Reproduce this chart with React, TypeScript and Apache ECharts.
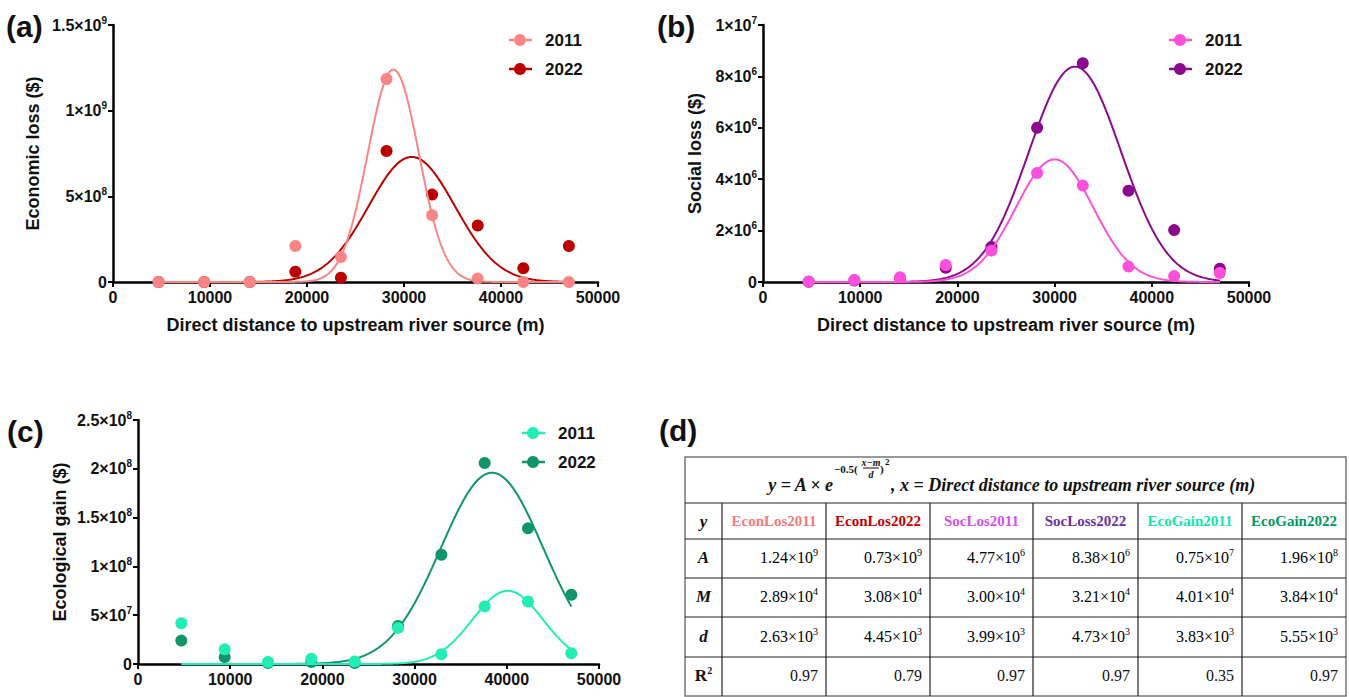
import React, { useEffect, useRef } from "react";
import * as echarts from "echarts";

// ---------------- data ----------------
const distances = [4700, 9400, 14100, 18800, 23500, 28200, 32900, 37600, 42300, 47000];

const econ2011 = [0, 0, 0, 0.21e9, 0.146e9, 1.185e9, 0.39e9, 0.02e9, 0, 0];
const econ2022 = [0, 0, 0, 0.06e9, 0.025e9, 0.765e9, 0.51e9, 0.33e9, 0.08e9, 0.21e9];
const soc2011 = [0.02e6, 0.08e6, 0.18e6, 0.66e6, 1.22e6, 4.24e6, 3.75e6, 0.6e6, 0.23e6, 0.35e6];
const soc2022 = [0.01e6, 0.06e6, 0.15e6, 0.55e6, 1.36e6, 6.0e6, 8.51e6, 3.55e6, 2.02e6, 0.52e6];
const eco2011 = [0.417e8, 0.15e8, 0.02e8, 0.055e8, 0.025e8, 0.37e8, 0.1e8, 0.59e8, 0.64e8, 0.11e8];
const eco2022 = [0.24e8, 0.07e8, 0.01e8, 0.02e8, 0.01e8, 0.39e8, 1.12e8, 2.06e8, 1.39e8, 0.71e8];

// Gaussian fit parameters (table d); curve amplitude for EcoGain2011 as plotted
const fitNames = ["EconLos2011", "EconLos2022", "SocLos2011", "SocLoss2022", "EcoGain2011", "EcoGain2022"];
const fitA = [1.24e9, 0.73e9, 4.77e6, 8.38e6, 0.75e8, 1.96e8];
const fitM = [28900, 30800, 30000, 32100, 40100, 38400];
const fitD = [2630, 4450, 3990, 4730, 3830, 5550];
const fitRange = [4700, 47000];

// table text
const tableA = [["1.24", "9"], ["0.73", "9"], ["4.77", "6"], ["8.38", "6"], ["0.75", "7"], ["1.96", "8"]];
const tableM = [["2.89", "4"], ["3.08", "4"], ["3.00", "4"], ["3.21", "4"], ["4.01", "4"], ["3.84", "4"]];
const tableD = [["2.63", "3"], ["4.45", "3"], ["3.99", "3"], ["4.73", "3"], ["3.83", "3"], ["5.55", "3"]];
const tableR2 = ["0.97", "0.79", "0.97", "0.97", "0.35", "0.97"];
const headerColors = ["#F27C7C", "#C00000", "#D651EC", "#7030A0", "#12E6AA", "#009A62"];

// tick labels [value, mantissa, exponent]
const econTicks: [number, string, string][] = [[0, "0", ""], [5e8, "5", "8"], [1e9, "1", "9"], [1.5e9, "1.5", "9"]];
const socTicks: [number, string, string][] = [[0, "0", ""], [2e6, "2", "6"], [4e6, "4", "6"], [6e6, "6", "6"], [8e6, "8", "6"], [1e7, "1", "7"]];
const ecoTicks: [number, string, string][] = [[0, "0", ""], [5e7, "5", "7"], [1e8, "1", "8"], [1.5e8, "1.5", "8"], [2e8, "2", "8"], [2.5e8, "2.5", "8"]];

const colors = {
  econ2011: "#FA8585",
  econ2022: "#BC0000",
  soc2011: "#FF50DC",
  soc2022: "#8A0A8E",
  eco2011: "#22EDB4",
  eco2022: "#10956A",
};

const SANS = "Arial, 'Liberation Sans', Helvetica, sans-serif";
const SERIF = "'Liberation Serif', 'Times New Roman', serif";

function gaussCurve(i: number) {
  const pts: number[][] = [];
  for (let x = fitRange[0]; x <= fitRange[1]; x += 100) {
    const z = (x - fitM[i]) / fitD[i];
    pts.push([x, fitA[i] * Math.exp(-0.5 * z * z)]);
  }
  return pts;
}

function pair(ys: number[]) {
  return distances.map((x, i) => [x, ys[i]]);
}

function tickFormatter(ticks: [number, string, string][]) {
  return (v: number) => {
    const t = ticks.find((k) => Math.abs(k[0] - v) < 1e-6 * Math.max(1, Math.abs(v)));
    if (!t) return "";
    return t[2] ? `{m|${t[1]}×10}{s|${t[2]}}` : `{m|${t[1]}}`;
  };
}

const axisRich = {
  m: { fontSize: 16, fontWeight: "bold", fontFamily: SANS, color: "#111", lineHeight: 20 },
  s: { fontSize: 10, fontWeight: "bold", fontFamily: SANS, color: "#111", lineHeight: 8, verticalAlign: "top" },
};

const axisLineStyle = { color: "#000", width: 2.5 };

function makeX(gridIndex: number, withName: boolean) {
  return {
    type: "value",
    gridIndex,
    min: 0,
    max: 50000,
    interval: 10000,
    name: withName ? "Direct distance to upstream river source (m)" : "",
    nameLocation: "middle",
    nameGap: 34,
    nameTextStyle: { fontSize: 18, fontWeight: "bold", fontFamily: SANS, color: "#111" },
    axisLine: { show: true, onZero: false, lineStyle: axisLineStyle },
    axisTick: { show: true, length: 5, lineStyle: { color: "#000", width: 2 } },
    axisLabel: {
      fontSize: 16, fontWeight: "bold", fontFamily: SANS, color: "#111", margin: 7,
      formatter: (v: number) => String(v),
    },
    splitLine: { show: false },
  };
}

function makeY(gridIndex: number, name: string, max: number, interval: number, ticks: [number, string, string][], gap: number) {
  return {
    type: "value",
    gridIndex,
    min: 0,
    max,
    interval,
    name,
    nameLocation: "middle",
    nameGap: gap,
    nameTextStyle: { fontSize: 18, fontWeight: "bold", fontFamily: SANS, color: "#111" },
    axisLine: { show: true, lineStyle: axisLineStyle },
    axisTick: { show: true, length: 5, lineStyle: { color: "#000", width: 2 } },
    axisLabel: { formatter: tickFormatter(ticks), rich: axisRich, margin: 6 },
    splitLine: { show: false },
  };
}

function panelSeries(gi: number, ys2011: number[], ys2022: number[], c2011: string, c2022: string, f2011: number, f2022: number) {
  return [
    {
      type: "line", xAxisIndex: gi, yAxisIndex: gi, data: gaussCurve(f2022), showSymbol: false,
      lineStyle: { color: c2022, width: 2 }, z: 2, silent: true,
    },
    {
      type: "scatter", xAxisIndex: gi, yAxisIndex: gi, data: pair(ys2022), symbolSize: 12,
      itemStyle: { color: c2022, opacity: 1 }, z: 3,
    },
    {
      type: "line", xAxisIndex: gi, yAxisIndex: gi, data: gaussCurve(f2011), showSymbol: false,
      lineStyle: { color: c2011, width: 2 }, z: 4, silent: true,
    },
    {
      type: "scatter", xAxisIndex: gi, yAxisIndex: gi, data: pair(ys2011), symbolSize: 12,
      itemStyle: { color: c2011, opacity: 1 }, z: 5,
    },
  ];
}

function legendGraphic(x: number, y1: number, y2: number, c1: string, c2: string) {
  const items: any[] = [];
  [[y1, c1, "2011"], [y2, c2, "2022"]].forEach(([y, c, t]: any) => {
    items.push({ type: "line", shape: { x1: x - 11, y1: y, x2: x + 12, y2: y }, style: { stroke: c, lineWidth: 2.5 } });
    items.push({ type: "circle", shape: { cx: x, cy: y, r: 6 }, style: { fill: c } });
    items.push({
      type: "text", x: x + 25, y, style: { text: t, fontSize: 17, fontWeight: "bold", fontFamily: SANS, fill: "#111", textVerticalAlign: "middle" },
    });
  });
  return items;
}

function panelLabel(text: string, x: number, y: number) {
  return {
    type: "text", x, y,
    style: { text, fontSize: 30, fontWeight: "bold", fontFamily: SANS, fill: "#111", textVerticalAlign: "middle" },
  };
}

function tableGraphic() {
  const els: any[] = [];
  const cols = [685, 722, 826, 930, 1033, 1138, 1242, 1346];
  const rows = [457, 503, 539, 578, 617, 657, 696];
  const L = cols[0], R = cols[cols.length - 1], T = rows[0], B = rows[rows.length - 1];
  els.push({ type: "rect", shape: { x: L, y: T, width: R - L, height: B - T }, style: { fill: "none", stroke: "#777", lineWidth: 1.5 } });
  rows.slice(1, -1).forEach((y) => els.push({ type: "line", shape: { x1: L, y1: y, x2: R, y2: y }, style: { stroke: "#222", lineWidth: 1.2 } }));
  cols.slice(1, -1).forEach((x) => els.push({ type: "line", shape: { x1: x, y1: rows[1], x2: x, y2: B }, style: { stroke: "#222", lineWidth: 1.2 } }));

  // formula row
  const fy = 485;
  const fStyle = { fontFamily: SERIF, fontWeight: "bold", fontStyle: "italic", fill: "#111" };
  els.push({ type: "text", x: 833, y: fy, style: { ...fStyle, text: "y = A × e", fontSize: 18, textAlign: "right", textVerticalAlign: "middle" } });
  els.push({ type: "text", x: 834, y: 469, style: { ...fStyle, fontStyle: "normal", text: "−0.5(", fontSize: 11, textAlign: "left", textVerticalAlign: "middle" } });
  els.push({ type: "text", x: 871, y: 462, style: { ...fStyle, text: "x−m", fontSize: 10, textAlign: "center", textVerticalAlign: "middle" } });
  els.push({ type: "line", shape: { x1: 863, y1: 468, x2: 879, y2: 468 }, style: { stroke: "#111", lineWidth: 1 } });
  els.push({ type: "text", x: 871, y: 474, style: { ...fStyle, text: "d", fontSize: 10, textAlign: "center", textVerticalAlign: "middle" } });
  els.push({ type: "text", x: 880, y: 469, style: { ...fStyle, fontStyle: "normal", text: ")", fontSize: 11, textAlign: "left", textVerticalAlign: "middle" } });
  els.push({ type: "text", x: 885, y: 462, style: { ...fStyle, fontStyle: "normal", text: "2", fontSize: 9, textAlign: "left", textVerticalAlign: "middle" } });
  els.push({
    type: "text", x: 891, y: fy,
    style: { ...fStyle, text: ", x = Direct distance to upstream river source (m)", fontSize: 18, textAlign: "left", textVerticalAlign: "middle" },
  });

  const rowLabelX = (cols[0] + cols[1]) / 2;
  const labelStyle = { fontFamily: SERIF, fontWeight: "bold", fontStyle: "italic", fill: "#111", fontSize: 17, textAlign: "center", textVerticalAlign: "middle" };
  const centers = [521, 557, 596, 636, 675];
  ["y", "A", "M", "d"].forEach((t, i) => els.push({ type: "text", x: rowLabelX, y: centers[i], style: { ...labelStyle, text: t } }));
  els.push({
    type: "text", x: rowLabelX, y: centers[4],
    style: {
      text: "{v|R}{e|2}", textAlign: "center", textVerticalAlign: "middle",
      rich: {
        v: { fontFamily: SERIF, fontWeight: "bold", fontSize: 17, fill: "#111", color: "#111", lineHeight: 20 },
        e: { fontFamily: SERIF, fontWeight: "bold", fontSize: 10, fill: "#111", color: "#111", lineHeight: 8, verticalAlign: "top" },
      },
    },
  });

  fitNames.forEach((n, i) => {
    els.push({
      type: "text", x: (cols[i + 1] + cols[i + 2]) / 2, y: centers[0],
      style: { text: n, fontFamily: SERIF, fontWeight: "bold", fontSize: 15, fill: headerColors[i], textAlign: "center", textVerticalAlign: "middle" },
    });
  });

  const valRich = {
    v: { fontFamily: SERIF, fontSize: 16, color: "#111", lineHeight: 20 },
    e: { fontFamily: SERIF, fontSize: 10, color: "#111", lineHeight: 8, verticalAlign: "top" },
  };
  [tableA, tableM, tableD].forEach((arr, r) => {
    arr.forEach((p, i) => {
      els.push({
        type: "text", x: cols[i + 2] - 8, y: centers[r + 1],
        style: { text: `{v|${p[0]}×10}{e|${p[1]}}`, rich: valRich, textAlign: "right", textVerticalAlign: "middle" },
      });
    });
  });
  tableR2.forEach((t, i) => {
    els.push({
      type: "text", x: cols[i + 2] - 8, y: centers[4],
      style: { text: t, fontFamily: SERIF, fontSize: 16, fill: "#111", textAlign: "right", textVerticalAlign: "middle" },
    });
  });
  return els;
}

export default function App() {
  const ref = useRef<HTMLDivElement>(null);
  useEffect(() => {
    if (!ref.current) return;
    const chart = echarts.init(ref.current, undefined, { renderer: "svg" });
    const option: any = {
      animation: false,
      backgroundColor: "#fff",
      grid: [
        { left: 113, top: 25, width: 485, height: 257 },
        { left: 763, top: 25, width: 486, height: 257 },
        { left: 138, top: 420, width: 461, height: 244 },
      ],
      xAxis: [makeX(0, true), makeX(1, true), makeX(2, false)],
      yAxis: [
        makeY(0, "Economic loss ($)", 1.5e9, 5e8, econTicks, 71),
        makeY(1, "Social loss ($)", 1e7, 2e6, socTicks, 59),
        makeY(2, "Ecological gain ($)", 2.5e8, 5e7, ecoTicks, 69),
      ],
      series: [
        ...panelSeries(0, econ2011, econ2022, colors.econ2011, colors.econ2022, 0, 1),
        ...panelSeries(1, soc2011, soc2022, colors.soc2011, colors.soc2022, 2, 3),
        ...panelSeries(2, eco2011, eco2022, colors.eco2011, colors.eco2022, 4, 5),
      ],
      graphic: [
        panelLabel("(a)", 6, 26),
        panelLabel("(b)", 657, 26),
        panelLabel("(c)", 7, 431),
        panelLabel("(d)", 659, 430),
        ...legendGraphic(520, 40, 69, colors.econ2011, colors.econ2022),
        ...legendGraphic(1180, 40, 69, colors.soc2011, colors.soc2022),
        ...legendGraphic(533, 433, 462, colors.eco2011, colors.eco2022),
        ...tableGraphic(),
      ],
    };
    chart.setOption(option);
    return () => chart.dispose();
  }, []);
  return <div ref={ref} style={{ position: "fixed", left: 0, top: 0, width: 1349, height: 697, background: "#fff" }} />;
}
